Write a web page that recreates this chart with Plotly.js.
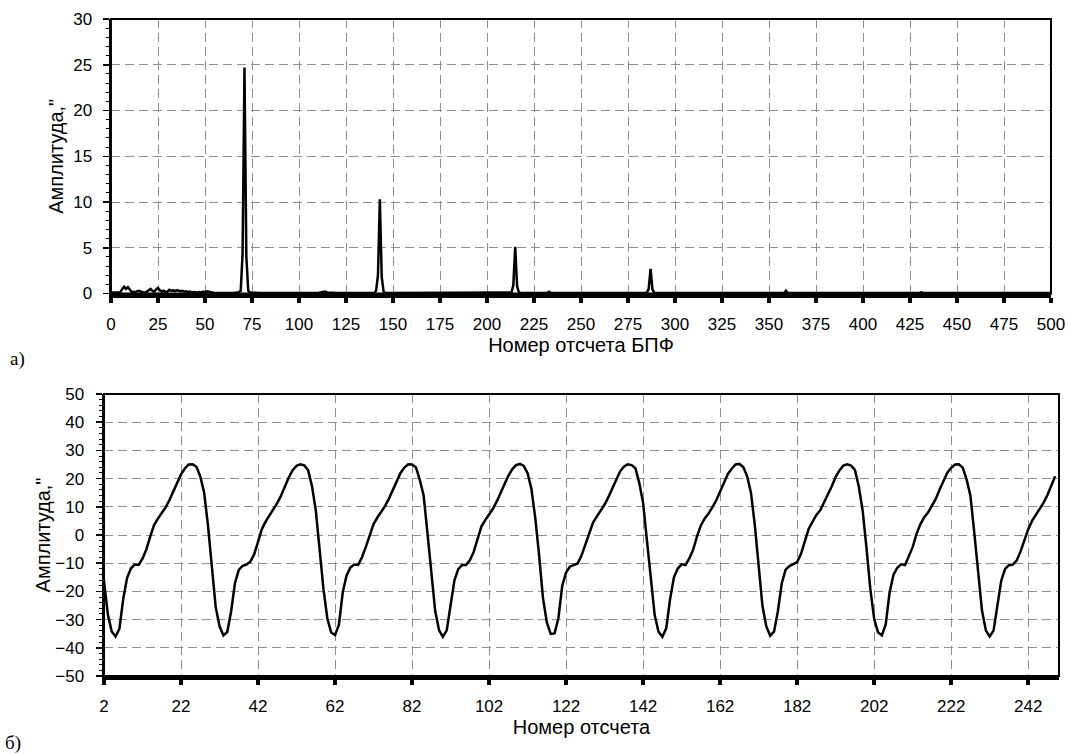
<!DOCTYPE html>
<html>
<head>
<meta charset="utf-8">
<script src="https://cdn.plot.ly/plotly-3.0.1.min.js"></script>
<style>html,body{margin:0;padding:0;background:#fff;}#chart{width:1068px;height:754px;}</style>
</head>
<body>
<div id="chart"></div>
<script>
// ---------- Data: (a) FFT spectrum ----------
const fftBin = [0, 3, 5, 6, 7, 8, 9, 10, 11, 12, 13, 14, 15, 16, 17, 18, 19, 20, 21, 22, 23, 24, 25, 26, 27, 28, 29, 30,
  31, 32, 33, 34, 35, 36, 37, 38, 39, 40, 41, 42, 43, 44, 45, 46, 47, 48, 49, 50, 51, 52, 53, 55, 60, 65, 68,
  69, 70, 71, 72, 73, 74, 80, 110, 113, 114, 115, 120, 140, 141, 142, 143, 144, 145, 146, 170, 171, 172,
  212, 213, 214, 215, 216, 217, 218, 232, 233, 234, 284, 285, 286, 287, 288, 289, 290, 358, 359, 360,
  430, 431, 432, 500];
const fftAmp = [0.1, 0.1, 0.15, 0.5, 0.75, 0.5, 0.7, 0.45, 0.15, 0.2, 0.15, 0.25, 0.3, 0.2, 0.15, 0.1, 0.2, 0.35, 0.5, 0.3, 0.2, 0.45, 0.6, 0.35, 0.2, 0.3, 0.15, 0.2,
  0.4, 0.3, 0.35, 0.25, 0.35, 0.3, 0.25, 0.3, 0.2, 0.25, 0.15, 0.2, 0.1, 0.15, 0.1, 0.1, 0.15, 0.1, 0.2, 0.15, 0.25, 0.2, 0.1, 0.05, 0.05, 0.05, 0.15,
  0.3, 4.4, 24.7, 4.0, 0.3, 0.1, 0.05, 0.05, 0.15, 0.22, 0.1, 0.05, 0.05, 0.3, 2.0, 10.3, 1.8, 0.2, 0.05, 0.05, 0.12, 0.05,
  0.05, 0.1, 0.9, 5.1, 0.8, 0.1, 0.05, 0.05, 0.18, 0.05, 0.05, 0.1, 0.5, 2.7, 0.45, 0.08, 0.05, 0.05, 0.3, 0.05,
  0.05, 0.12, 0.05, 0.05];

// ---------- Data: (b) signal samples, starting at sample number 2 ----------
const firstSample = 2;
const signal = [
  -16.2, -28.2, -34.2, -36.0, -33.3, -22.6, -15.2, -11.8, -10.5, -10.6, -8.4, -5.1, -0.6, 3.5, 5.8, 7.7, 9.8, 12.4, 15.3, 18.7, 21.5, 23.6, 25.0, 25.1, 24.2, 20.8, 15.1, 3.4,
  -10.0, -25.5, -32.3, -35.6, -34.4, -27.2, -17.1, -12.4, -10.9, -10.5, -9.5, -6.8, -2.4, 2.1, 4.8, 7.0, 8.9, 11.4, 14.0, 17.4, 20.5, 23.0, 24.5, 25.1, 24.7, 23.0, 17.4, 8.7, -4.7,
  -19.3, -29.6, -34.6, -35.5, -31.8, -20.3, -14.3, -11.5, -10.5, -10.6, -7.9, -4.2, 0.3, 3.9, 6.2, 8.1, 10.3, 12.9, 16.0, 19.4, 22.0, 23.9, 25.1, 25.0, 24.0, 19.6, 14.0, 0.7,
  -13.1, -26.9, -33.7, -36.1, -33.8, -24.9, -16.1, -12.1, -10.6, -10.6, -9.0, -6.0, -1.5, 3.0, 5.3, 7.4, 9.3, 11.9, 14.7, 18.0, 21.0, 23.3, 24.8, 25.2, 24.5, 21.9, 16.3, 6.0, -7.3,
  -22.4, -31.0, -35.1, -34.9, -29.5, -18.0, -13.3, -11.2, -10.5, -10.1, -7.3, -3.3, 1.2, 4.4, 6.6, 8.5, 10.8, 13.5, 16.7, 19.9, 22.5, 24.2, 25.1, 24.8, 23.7, 18.5, 11.3, -2.0,
  -16.0, -28.4, -34.3, -36.1, -33.1, -22.8, -15.0, -11.9, -10.4, -10.7, -8.3, -5.2, -0.5, 3.4, 5.9, 7.6, 9.9, 12.3, 15.4, 18.6, 21.6, 23.5, 25.0, 25.2, 24.1, 20.9, 15.0, 3.6,
  -10.2, -25.3, -32.4, -35.7, -34.3, -27.0, -17.2, -12.3, -11.0, -10.4, -9.6, -6.7, -2.5, 2.2, 4.7, 7.1, 8.8, 11.5, 14.1, 17.3, 20.6, 22.9, 24.6, 25.1, 24.6, 23.1, 17.3, 8.8, -4.5,
  -19.1, -29.7, -34.5, -35.6, -31.7, -20.5, -14.2, -11.6, -10.4, -10.7, -7.8, -4.3, 0.4, 3.8, 6.3, 8.0, 10.4, 12.8, 16.1, 19.3, 22.1, 23.8, 25.0, 25.1, 23.9, 19.7, 13.9, 0.8,
  -13.0, -26.8, -33.8, -36.0, -33.9, -24.7, -16.2, -12.0, -10.7, -10.5, -9.1, -5.9, -1.6, 2.0, 5.0, 7.2, 9.0, 11.5, 14.2, 17.5, 20.8
];

// ---------- Text ----------
const titleA_x = 'Номер отсчета БПФ';
const titleB_x = 'Номер отсчета';
const titleY = 'Амплитуда,"';
const panelA = 'а)';
const panelB = 'б)';

// ---------- Build ----------
const sampleNo = signal.map((_, i) => firstSample + i);

const W = 1068, H = 754;
const M = {l: 104, r: 9, t: 19, b: 78};
const PW = W - M.l - M.r, PH = H - M.t - M.b;
const px = v => (v - M.l) / PW;          // pixel x -> paper
const py = v => (H - M.b - v) / PH;      // pixel y -> paper

const font = 'Liberation Sans, Arial, sans-serif';
const grid = {showgrid: true, gridcolor: '#8f8f8f', gridwidth: 1, griddash: '9px,5px'};

const traces = [
  {x: fftBin, y: fftAmp, xaxis: 'x', yaxis: 'y', type: 'scatter', mode: 'lines',
   line: {color: '#000', width: 2.5}, hoverinfo: 'skip'},
  {x: sampleNo, y: signal, xaxis: 'x2', yaxis: 'y2', type: 'scatter', mode: 'lines',
   line: {color: '#000', width: 2.5}, hoverinfo: 'skip'}
];

const xCommon = Object.assign({
  ticks: 'outside', ticklen: 5, tickwidth: 4, tickcolor: '#000',
  showline: true, linewidth: 4, linecolor: '#000', zeroline: false,
  tickfont: {family: font, size: 17, color: '#000'}, automargin: false
}, grid);
const yCommon = Object.assign({
  ticks: 'outside', ticklen: 6, tickwidth: 1.5, tickcolor: '#000',
  showline: true, linewidth: 2.5, linecolor: '#000', zeroline: false,
  tickfont: {family: font, size: 17, color: '#000'}, automargin: false
}, grid);
const titleFont = {family: font, size: 20, color: '#000'};

const layout = {
  width: W, height: H, margin: M,
  paper_bgcolor: '#fff', plot_bgcolor: '#fff', showlegend: false,
  font: {family: font, color: '#000'},
  xaxis: Object.assign({}, xCommon, {
    domain: [px(111), px(1051)], anchor: 'y', range: [0, 500], tick0: 0, dtick: 25, ticklabelstandoff: 7,
    title: {text: titleA_x, font: titleFont, standoff: 1}
  }),
  yaxis: Object.assign({}, yCommon, {
    domain: [py(293.5), py(19)], anchor: 'x', range: [0, 30], tick0: 0, dtick: 5, ticklabelstandoff: 7,
    minor: {dtick: 1, ticks: 'outside', ticklen: 3, tickwidth: 1, tickcolor: '#000', showgrid: false},
    title: {text: titleY, font: titleFont, standoff: 4}
  }),
  xaxis2: Object.assign({}, xCommon, {
    domain: [px(104), px(1059)], anchor: 'y2', range: [2, 250], tick0: 2, dtick: 20, ticklabelstandoff: 7,
    title: {text: titleB_x, font: titleFont, standoff: 1}
  }),
  yaxis2: Object.assign({}, yCommon, {
    domain: [py(676), py(394)], anchor: 'x2', range: [-50, 50], tick0: -50, dtick: 10, ticklabelstandoff: 8,
    minor: {dtick: 2, ticks: 'outside', ticklen: 3, tickwidth: 1, tickcolor: '#000', showgrid: false},
    title: {text: titleY, font: titleFont, standoff: 0}
  }),
  shapes: [
    {type: 'rect', xref: 'x domain', yref: 'y domain', x0: 0, x1: 1, y0: 0, y1: 1,
     line: {color: '#000', width: 2}, fillcolor: 'rgba(0,0,0,0)', layer: 'above'},
    {type: 'rect', xref: 'x2 domain', yref: 'y2 domain', x0: 0, x1: 1, y0: 0, y1: 1,
     line: {color: '#000', width: 2}, fillcolor: 'rgba(0,0,0,0)', layer: 'above'}
  ],
  annotations: [
    {text: panelA, xref: 'paper', yref: 'paper', x: px(8), y: py(359), xanchor: 'left', yanchor: 'middle',
     showarrow: false, font: {family: 'Liberation Serif, Times New Roman, serif', size: 19, color: '#000'}},
    {text: panelB, xref: 'paper', yref: 'paper', x: px(3), y: py(743), xanchor: 'left', yanchor: 'middle',
     showarrow: false, font: {family: 'Liberation Serif, Times New Roman, serif', size: 19, color: '#000'}}
  ]
};

Plotly.newPlot('chart', traces, layout, {displayModeBar: false, staticPlot: true});
</script>
</body>
</html>
